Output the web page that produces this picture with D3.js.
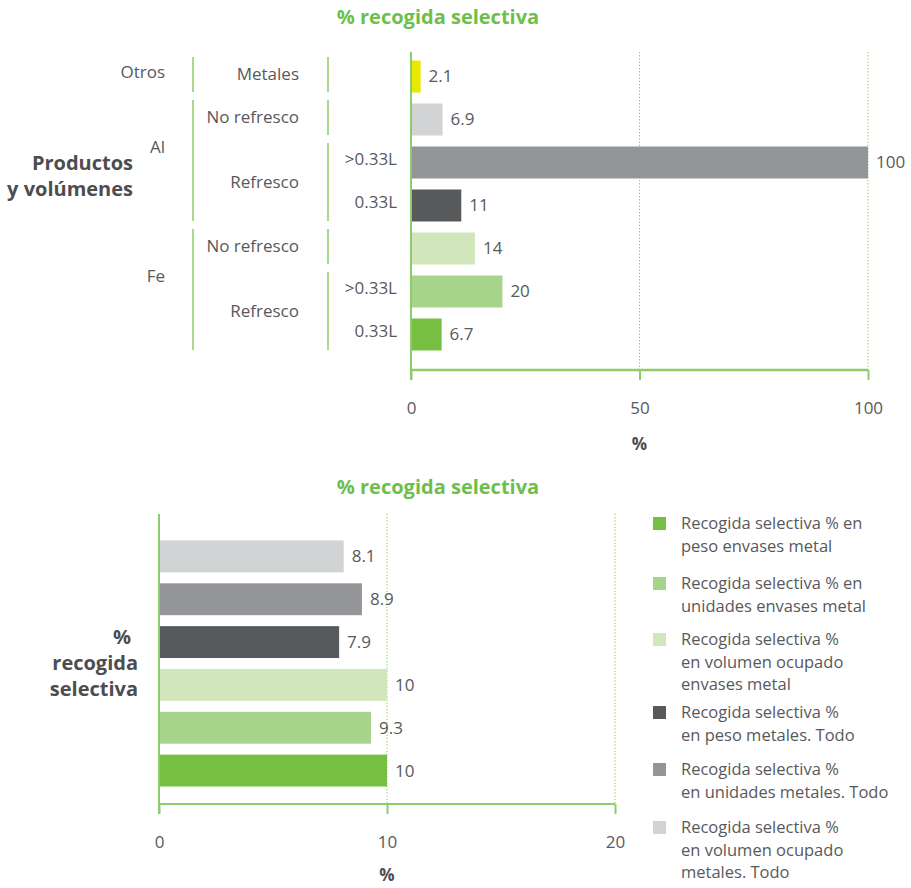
<!DOCTYPE html>
<html>
<head>
<meta charset="utf-8">
<script src="https://cdn.jsdelivr.net/npm/d3@7"></script>
<style>
  body { margin: 0; background: #fff; }
  svg { display: block; font-family: "Open Sans", "Noto Sans", sans-serif; }
  .txt { fill: #58595b; font-size: 17px; }
  .bold { fill: #4d4d4f; font-weight: 700; font-size: 20px; }
  .title { fill: #6cbf4a; font-weight: 700; font-size: 20px; }
</style>
</head>
<body>
<svg id="chart" width="911" height="888"></svg>
<script>
// ---- Top chart: separate collection by product and volume ----
const topProducts = ["Otros", "Al", "Al", "Al", "Fe", "Fe", "Fe"];
const topTypes = ["Metales", "No refresco", "Refresco", "Refresco", "No refresco", "Refresco", "Refresco"];
const topVolumes = ["", "", ">0.33L", "0.33L", "", ">0.33L", "0.33L"];
const topValues = [2.1, 6.9, 100, 11, 14, 20, 6.7];
const topColors = ["#e8e800", "#d1d3d4", "#939598", "#58595b", "#d1e7bb", "#a5d48a", "#76bf43"];
const topTicks = [0, 50, 100];

// ---- Bottom chart: overall separate collection by measure ----
const bottomSeries = [
  "Recogida selectiva % en peso envases metal",
  "Recogida selectiva % en unidades envases metal",
  "Recogida selectiva % en volumen ocupado envases metal",
  "Recogida selectiva % en peso metales. Todo",
  "Recogida selectiva % en unidades metales. Todo",
  "Recogida selectiva % en volumen ocupado metales. Todo"
];
const legendLines = [
  ["Recogida selectiva % en", "peso envases metal"],
  ["Recogida selectiva % en", "unidades envases metal"],
  ["Recogida selectiva %", "en volumen ocupado", "envases metal"],
  ["Recogida selectiva %", "en peso metales. Todo"],
  ["Recogida selectiva %", "en unidades metales. Todo"],
  ["Recogida selectiva %", "en volumen ocupado", "metales. Todo"]
];
const bottomValues = [10, 9.3, 10, 7.9, 8.9, 8.1];
const bottomColors = ["#76bf43", "#a5d48a", "#d1e7bb", "#58595b", "#939598", "#d1d3d4"];
const bottomTicks = [0, 10, 20];

const axisGreen = "#8ccc6a";
const gridGreen = "#7dcc55";
const svg = d3.select("#chart");

// Group consecutive equal entries into runs of row indices
function runs(keys) {
  const out = [];
  keys.forEach((k, i) => {
    const last = out[out.length - 1];
    if (last && last.key === k) last.rows.push(i);
    else out.push({ key: k, rows: [i] });
  });
  return out;
}

// ================= TOP =================
{
  const x = d3.scaleLinear().domain([0, 100]).range([411, 868]);
  const rows = d3.range(topValues.length);
  const y = d3.scaleBand().domain(rows).range([55, 356]).paddingInner(0.256).paddingOuter(0.128);
  const plotTop = 52, plotBottom = 370;
  const step = y.step();
  const gStart = r => y(r) - y.paddingInner() * step / 2;
  const gEnd = r => y(r) + y.bandwidth() + y.paddingInner() * step / 2;

  svg.append("text").attr("class", "title").attr("x", 438).attr("y", 24)
    .attr("text-anchor", "middle").text("% recogida selectiva");

  // dotted gridlines
  svg.append("g").selectAll("line").data(topTicks.filter(t => t > 0)).join("line")
    .attr("x1", d => x(d)).attr("x2", d => x(d))
    .attr("y1", plotTop).attr("y2", plotBottom)
    .attr("stroke", gridGreen).attr("stroke-width", 1).attr("stroke-dasharray", "1.2,2");

  // bars
  svg.append("g").selectAll("rect").data(rows).join("rect")
    .attr("x", x(0)).attr("y", r => y(r))
    .attr("width", r => x(topValues[r]) - x(0)).attr("height", y.bandwidth())
    .attr("fill", r => topColors[r]);

  // value labels
  svg.append("g").selectAll("text").data(rows).join("text")
    .attr("class", "txt")
    .attr("x", r => x(topValues[r]) + 8).attr("y", r => y(r) + y.bandwidth() / 2)
    .attr("dy", "0.35em").text(r => topValues[r]);

  // axes
  const xAxis = d3.axisBottom(x).tickValues(topTicks).tickSize(10).tickPadding(22);
  const gx = svg.append("g").attr("transform", `translate(0,${plotBottom})`).call(xAxis);
  gx.select(".domain").attr("stroke", axisGreen).attr("stroke-width", 2.5).attr("d", `M${x(0)},0H${x(100)}`);
  gx.selectAll(".tick line").attr("stroke", axisGreen).attr("stroke-width", 2);
  gx.selectAll(".tick text").attr("fill", "#58595b").attr("font-size", 17)
    .attr("font-family", "Open Sans, sans-serif");
  svg.append("line").attr("x1", x(0)).attr("x2", x(0)).attr("y1", plotTop).attr("y2", plotBottom + 10)
    .attr("stroke", axisGreen).attr("stroke-width", 2);
  svg.append("text").attr("class", "bold").attr("x", x(50)).attr("y", 450)
    .attr("text-anchor", "middle").style("font-size", "17px").text("%");

  // hierarchical category labels
  const volG = svg.append("g");
  rows.forEach(r => {
    if (topVolumes[r]) {
      volG.append("text").attr("class", "txt").attr("x", 397)
        .attr("y", y(r) + y.bandwidth() / 2 - 3).attr("dy", "0.35em")
        .attr("text-anchor", "end").text(topVolumes[r]);
    }
  });

  const typeRuns = runs(rows.map(r => topProducts[r] + "|" + topTypes[r]));
  typeRuns.forEach(g => {
    const a = gStart(g.rows[0]), b = gEnd(g.rows[g.rows.length - 1]);
    svg.append("line").attr("x1", 328).attr("x2", 328).attr("y1", a + 2).attr("y2", b - 6)
      .attr("stroke", axisGreen).attr("stroke-width", 1.5);
    svg.append("text").attr("class", "txt").attr("x", 299).attr("y", (a + b) / 2 - 2)
      .attr("dy", "0.35em").attr("text-anchor", "end").text(topTypes[g.rows[0]]);
  });

  const prodRuns = runs(topProducts);
  prodRuns.forEach(g => {
    const a = gStart(g.rows[0]), b = gEnd(g.rows[g.rows.length - 1]);
    svg.append("line").attr("x1", 193).attr("x2", 193).attr("y1", a + 2).attr("y2", b - 6)
      .attr("stroke", axisGreen).attr("stroke-width", 1.5);
    // label sits beside the first row of a multi-row group
    const ly = g.rows.length > 1 ? (gStart(g.rows[0]) + gEnd(g.rows[1])) / 2 + 6 : (a + b) / 2 - 4;
    svg.append("text").attr("class", "txt").attr("x", 165).attr("y", ly)
      .attr("dy", "0.35em").attr("text-anchor", "end").text(g.key);
  });

  const yt = svg.append("text").attr("class", "bold").attr("text-anchor", "end");
  yt.append("tspan").attr("x", 133).attr("y", 170).text("Productos");
  yt.append("tspan").attr("x", 133).attr("y", 196).text("y volúmenes");
}

// ================= BOTTOM =================
{
  const x = d3.scaleLinear().domain([0, 20]).range([159, 615]);
  const idx = d3.range(bottomValues.length);
  // first series sits at the bottom
  const y = d3.scaleBand().domain(idx.slice().reverse()).range([535, 792]).paddingInner(0.256).paddingOuter(0.128);
  const plotTop = 514, plotBottom = 804;

  svg.append("text").attr("class", "title").attr("x", 438).attr("y", 494)
    .attr("text-anchor", "middle").text("% recogida selectiva");

  svg.append("g").selectAll("line").data(bottomTicks.filter(t => t > 0)).join("line")
    .attr("x1", d => x(d)).attr("x2", d => x(d))
    .attr("y1", plotTop).attr("y2", plotBottom)
    .attr("stroke", gridGreen).attr("stroke-width", 1).attr("stroke-dasharray", "1.2,2");

  svg.append("g").selectAll("rect").data(idx).join("rect")
    .attr("x", x(0)).attr("y", i => y(i))
    .attr("width", i => x(bottomValues[i]) - x(0)).attr("height", y.bandwidth())
    .attr("fill", i => bottomColors[i]);

  svg.append("g").selectAll("text").data(idx).join("text")
    .attr("class", "txt")
    .attr("x", i => x(bottomValues[i]) + 8).attr("y", i => y(i) + y.bandwidth() / 2)
    .attr("dy", "0.35em").text(i => bottomValues[i]);

  const xAxis = d3.axisBottom(x).tickValues(bottomTicks).tickSize(10).tickPadding(22);
  const gx = svg.append("g").attr("transform", `translate(0,${plotBottom})`).call(xAxis);
  gx.select(".domain").attr("stroke", axisGreen).attr("stroke-width", 2).attr("d", `M${x(0)},0H${x(20)}`);
  gx.selectAll(".tick line").attr("stroke", axisGreen).attr("stroke-width", 2);
  gx.selectAll(".tick text").attr("fill", "#58595b").attr("font-size", 17)
    .attr("font-family", "Open Sans, sans-serif");
  svg.append("line").attr("x1", x(0)).attr("x2", x(0)).attr("y1", plotTop).attr("y2", plotBottom + 10)
    .attr("stroke", axisGreen).attr("stroke-width", 2);
  svg.append("text").attr("class", "bold").attr("x", x(10)).attr("y", 881)
    .attr("text-anchor", "middle").style("font-size", "17px").text("%");

  const yt = svg.append("text").attr("class", "bold").attr("text-anchor", "end");
  yt.append("tspan").attr("x", 131).attr("y", 644).text("%");
  yt.append("tspan").attr("x", 138).attr("y", 670).text("recogida");
  yt.append("tspan").attr("x", 138).attr("y", 696).text("selectiva");

  // legend
  const legendTops = [517, 577, 633, 706, 763, 821];
  const lg = svg.append("g");
  idx.forEach(i => {
    const top = legendTops[i];
    lg.append("rect").attr("x", 653).attr("y", top).attr("width", 13).attr("height", 13)
      .attr("fill", bottomColors[i]).append("title").text(bottomSeries[i]);
    const t = lg.append("text").attr("class", "txt").style("font-size", "16.5px");
    legendLines[i].forEach((ln, k) => {
      t.append("tspan").attr("x", 681).attr("y", top + 12 + k * 22.5).text(ln);
    });
  });
}
</script>
</body>
</html>
